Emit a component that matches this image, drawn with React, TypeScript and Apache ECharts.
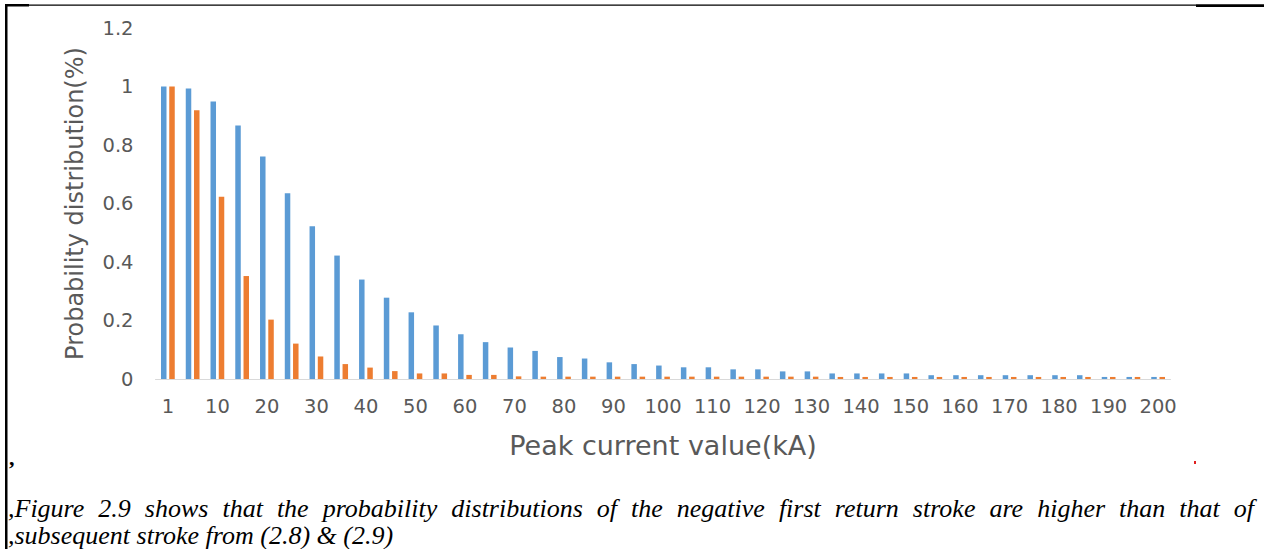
import React, { useEffect, useRef } from "react";
import * as echarts from "echarts";

const categories = [
  "1", "5", "10", "15", "20", "25", "30", "35", "40", "45", "50",
  "55", "60", "65", "70", "75", "80", "85", "90", "95", "100",
  "105", "110", "115", "120", "125", "130", "135", "140", "145", "150",
  "155", "160", "165", "170", "175", "180", "185", "190", "195", "200",
];

const firstStroke = [
  1.0, 0.993, 0.949, 0.867, 0.761, 0.635, 0.522, 0.422, 0.34, 0.278, 0.228,
  0.183, 0.153, 0.126, 0.108, 0.096, 0.075, 0.07, 0.057, 0.051, 0.046,
  0.04, 0.04, 0.033, 0.033, 0.026, 0.026, 0.019, 0.019, 0.019, 0.019,
  0.013, 0.013, 0.013, 0.013, 0.013, 0.013, 0.013, 0.007, 0.007, 0.007,
];

const subsequentStroke = [
  1.0, 0.919, 0.623, 0.352, 0.203, 0.121, 0.077, 0.051, 0.039, 0.027, 0.019,
  0.019, 0.014, 0.014, 0.009, 0.008, 0.008, 0.008, 0.008, 0.008, 0.008,
  0.008, 0.008, 0.008, 0.008, 0.008, 0.008, 0.007, 0.007, 0.007, 0.007,
  0.007, 0.007, 0.007, 0.007, 0.007, 0.007, 0.007, 0.007, 0.007, 0.007,
];

const yTicks = { min: 0, max: 1.2, interval: 0.2 };

const xAxisTitle = "Peak current value(kA)";
const yAxisTitle = "Probability distribution(%)";
const captionLine1 =
  ",Figure 2.9 shows that the probability distributions of the negative first return stroke are higher than that of";
const captionLine2 = ",subsequent stroke from (2.8) & (2.9)";

const CAPTION_FONT = "italic 26px 'Liberation Serif'";

function justifiedWords(line: string, x0: number, x1: number, y: number) {
  const words = line.split(" ");
  const ctx = document.createElement("canvas").getContext("2d");
  let widths: number[];
  if (ctx) {
    ctx.font = CAPTION_FONT;
    widths = words.map((w) => ctx.measureText(w).width);
  } else {
    widths = words.map((w) => w.length * 11);
  }
  const total = widths.reduce((a, b) => a + b, 0);
  const gap = (x1 - x0 - total) / Math.max(1, words.length - 1);
  const els: any[] = [];
  let x = x0;
  words.forEach((w, i) => {
    els.push({
      type: "text",
      x,
      y,
      style: { text: w, fill: "#000", font: CAPTION_FONT },
    });
    x += widths[i] + gap;
  });
  return els;
}

export default function App() {
  const ref = useRef<HTMLDivElement>(null);

  useEffect(() => {
    if (!ref.current) return;
    const chart = echarts.init(ref.current, null, { renderer: "svg" });
    const tickFont = {
      color: "#595959",
      fontFamily: "DejaVu Sans",
      fontSize: 19.5,
    };
    chart.setOption({
      animation: false,
      backgroundColor: "#ffffff",
      grid: { left: 155.5, right: 93.5, top: 28, bottom: 170 },
      xAxis: {
        type: "category",
        data: categories,
        axisLine: { lineStyle: { color: "#D9D9D9", width: 1 } },
        axisTick: { show: false },
        axisLabel: { ...tickFont, interval: 1, margin: 17 },
        name: xAxisTitle,
        nameLocation: "middle",
        nameGap: 53,
        nameTextStyle: {
          color: "#595959",
          fontFamily: "DejaVu Sans",
          fontSize: 27,
        },
      },
      yAxis: {
        type: "value",
        min: yTicks.min,
        max: yTicks.max,
        interval: yTicks.interval,
        axisLine: { show: false },
        axisTick: { show: false },
        splitLine: { show: false },
        axisLabel: { ...tickFont, margin: 22 },
        name: yAxisTitle,
        nameLocation: "middle",
        nameRotate: 90,
        nameGap: 69,
        nameTextStyle: {
          color: "#595959",
          fontFamily: "DejaVu Sans",
          fontSize: 24,
        },
      },
      series: [
        {
          name: "First return stroke",
          type: "bar",
          data: firstStroke,
          barWidth: 5.5,
          barGap: "50%",
          itemStyle: { color: "#5B9BD5" },
        },
        {
          name: "Subsequent stroke",
          type: "bar",
          data: subsequentStroke,
          barWidth: 5.5,
          itemStyle: { color: "#ED7D31" },
        },
      ],
      graphic: [
        { type: "rect", shape: { x: 5, y: 4, width: 2.5, height: 545 }, style: { fill: "#000" } },
        { type: "rect", shape: { x: 5, y: 4.5, width: 1259, height: 1.2 }, style: { fill: "#000" } },
        { type: "rect", shape: { x: 5, y: 4, width: 24, height: 2.5 }, style: { fill: "#000" } },
        { type: "rect", shape: { x: 1196, y: 4.5, width: 68, height: 2.5 }, style: { fill: "#000" } },
        { type: "rect", shape: { x: 1194, y: 461, width: 2, height: 3 }, style: { fill: "#e02020" } },
        {
          type: "text",
          x: 9,
          y: 446,
          style: {
            text: ",",
            fill: "#000",
            font: "bold 22px 'Liberation Serif'",
          },
        },
        ...justifiedWords(captionLine1, 8, 1254, 495),
        {
          type: "text",
          x: 8,
          y: 522,
          style: {
            text: captionLine2,
            fill: "#000",
            font: CAPTION_FONT,
          },
        },
      ],
    });
    return () => chart.dispose();
  }, []);

  return (
    <div
      ref={ref}
      style={{ position: "fixed", left: 0, top: 0, width: 1264, height: 549 }}
    />
  );
}
